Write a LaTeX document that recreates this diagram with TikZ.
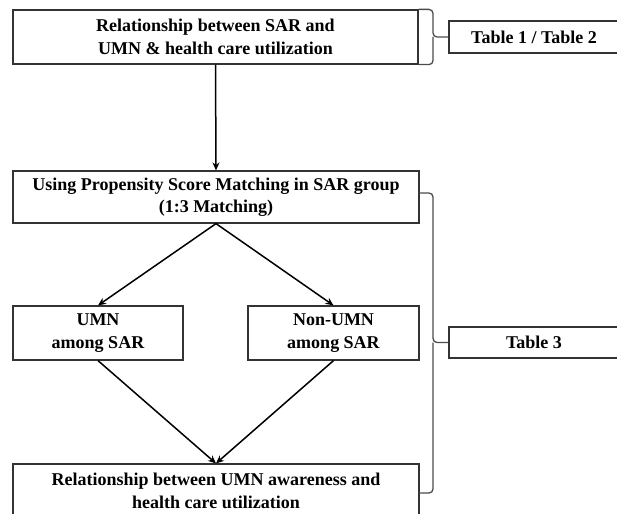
\documentclass[tikz,border=0pt]{standalone}
\usepackage{fontspec}
\setmainfont{Liberation Serif}
\usetikzlibrary{arrows.meta,calc}
\begin{document}
\begin{tikzpicture}[x=1pt,y=-1pt,
 box/.style={draw=black!80,line width=1.2pt,rectangle,inner sep=0pt,align=center,font=\fontsize{18}{22.5}\selectfont\bfseries},
 arr/.style={-{Stealth[length=8pt,width=7pt]},line width=1.5pt,black},
 brk/.style={draw=black!70,line width=1.3pt,rounded corners=4pt}]
\useasboundingbox (0,0) rectangle (617,513);
\clip (0,0) rectangle (617,513);
\node[box,minimum width=405pt,minimum height=54pt] (top) at (215.5,37) {Relationship between SAR and\\UMN \& health care utilization};
\node[box,minimum width=406pt,minimum height=52pt] (psm) at (216,197) {Using Propensity Score Matching in SAR group\\(1:3 Matching)};
\node[box,minimum width=170pt,minimum height=54pt] (umn) at (98,333) {UMN\\among SAR};
\node[box,minimum width=171pt,minimum height=54pt] (non) at (333.5,333) {Non-UMN\\among SAR};
\node[box,minimum width=406pt,minimum height=54pt] (bot) at (216,491) {Relationship between UMN awareness and\\health care utilization};
\node[box,minimum width=170pt,minimum height=32pt] (tab1) at (534,37) {Table 1 / Table 2};
\node[box,minimum width=170pt,minimum height=31pt] (tab3) at (534,342.5) {Table 3};
% arrows
\draw[arr] (top.south) -- (psm.north);
\draw[arr] (psm.south) -- (umn.north);
\draw[arr] (psm.south) -- (non.north);
\draw[arr] (umn.south) -- (bot.north);
\draw[arr] (non.south) -- (bot.north);
% braces
\coordinate (b1) at (433,37);
\draw[brk] (top.north east) -- (b1 |- top.north) -- (b1) -- (tab1.west);
\draw[brk] (top.south east) -- (b1 |- top.south) -- (b1);
\coordinate (b2t) at (419,193);
\coordinate (b2b) at (419,493);
\coordinate (b2) at (433,342.5);
\draw[brk] (b2t) -- (b2 |- b2t) -- (b2) -- (tab3.west);
\draw[brk] (b2b) -- (b2 |- b2b) -- (b2);
\end{tikzpicture}
\end{document}
